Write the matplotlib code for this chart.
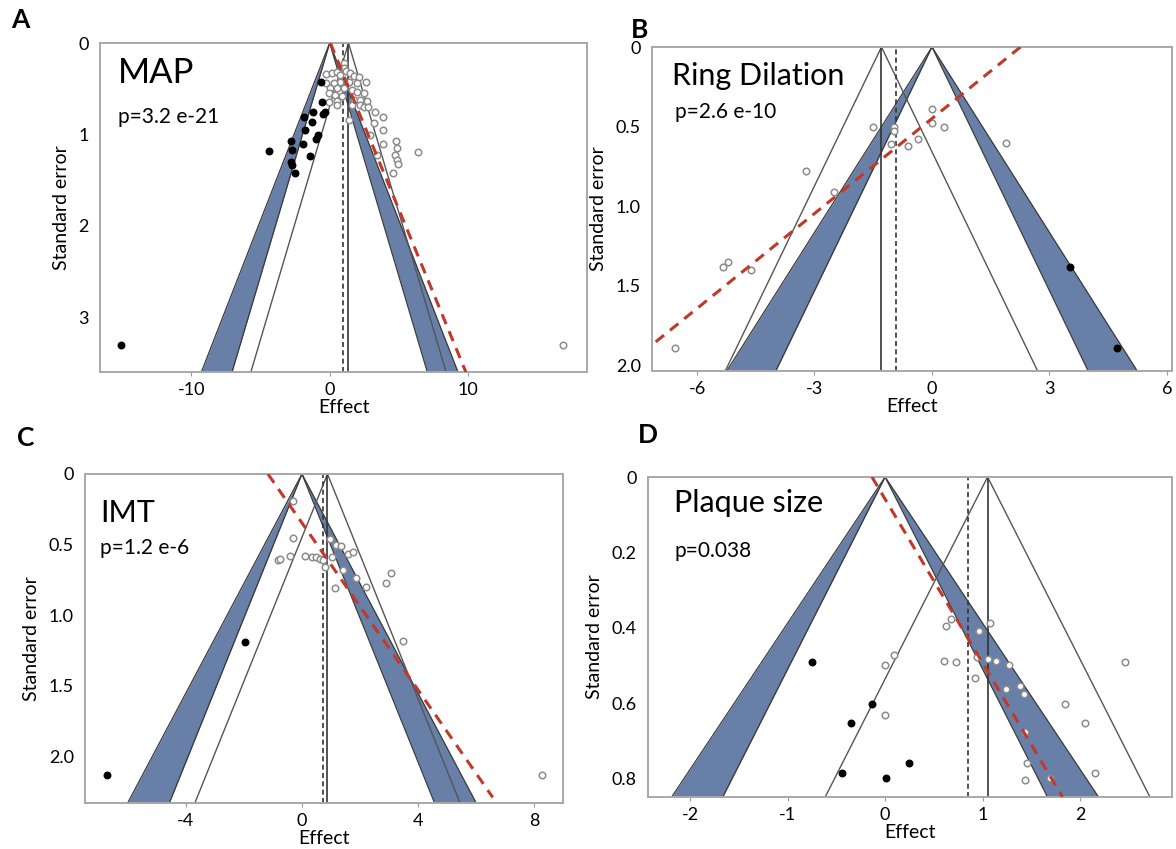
import matplotlib
matplotlib.use('Agg')
import matplotlib.pyplot as plt
import numpy as np

plt.rcParams['font.family'] = ['Lato', 'DejaVu Sans']
plt.rcParams['axes.unicode_minus'] = False

# ---- data ----
# A: MAP
a_open_x = [-0.24, 0.17, 0.53, 1.06, 1.06, 1.2, 0.77, 1.49, 1.73, 2.09, 2.64, 1.97, 1.37, 0.72, 0.29,
            -0.24, 0.05, 0.53, 1.06, 1.61, 2.01, 2.45, -0.07, 0.41, 0.89, 0.53, -0.07, 1.73, 2.21, 2.69,
            2.16, 2.5, 2.8, 1.61, 0.53, 3.29, 3.88, 1.37, 3.17, 3.84, 2.93, 3.88, 4.78, 4.85, 4.73,
            6.4, 4.85, 4.96, 4.56, 3.41, 16.9]
a_open_se = [0.34, 0.33, 0.32, 0.22, 0.27, 0.31, 0.35, 0.33, 0.36, 0.37, 0.43, 0.44, 0.43, 0.43, 0.44,
             0.44, 0.49, 0.49, 0.49, 0.51, 0.54, 0.55, 0.55, 0.57, 0.58, 0.64, 0.65, 0.62, 0.62, 0.64,
             0.68, 0.70, 0.70, 0.68, 0.68, 0.76, 0.81, 0.84, 0.87, 0.95, 1.01, 1.11, 1.07, 1.15, 1.23,
             1.19, 1.28, 1.32, 1.42, 1.23, 3.30]
a_fill_x = [-15.1, -4.39, -0.62, -0.55, -0.36, -1.19, -1.87, -1.27, -1.75, -0.83, -0.96, -2.83,
            -1.91, -2.7, -1.44, -2.83, -2.54, -0.5, -2.75]
a_fill_se = [3.30, 1.18, 0.43, 0.65, 0.75, 0.76, 0.81, 0.86, 0.95, 1.01, 1.05, 1.07,
             1.11, 1.17, 1.24, 1.30, 1.42, 0.78, 1.33]
a_pooled, a_adjusted = 1.36, 0.95
a_egger = [0.05, 2.72, 3.6]   # intercept, slope (effect = b0 + b1*SE), last SE drawn

# B: Ring Dilation
b_open_x = [-6.57, -5.34, -5.22, -4.62, -3.22, -2.50, -1.50, -0.98, -1.05, -0.62, -0.36, 0.0, 0.0, 0.32, 1.90, -0.96]
b_open_se = [1.89, 1.38, 1.35, 1.40, 0.78, 0.91, 0.50, 0.50, 0.61, 0.62, 0.58, 0.39, 0.48, 0.50, 0.60, 0.53]
b_fill_x = [3.52, 4.73]
b_fill_se = [1.38, 1.89]
b_pooled, b_adjusted = -1.29, -0.91
b_egger = [2.26, -5.03, 2.035]

# C: IMT
c_open_x = [-0.32, -0.30, -0.84, -0.74, -0.42, 0.09, 0.36, 0.49, 0.61, 0.74, 0.79, 1.04, 0.95, 1.17,
            1.34, 1.60, 1.75, 1.43, 1.86, 1.13, 2.21, 2.90, 3.05, 3.48, 8.25]
c_open_se = [0.19, 0.45, 0.61, 0.60, 0.58, 0.58, 0.59, 0.59, 0.60, 0.61, 0.66, 0.59, 0.46, 0.50,
             0.51, 0.57, 0.55, 0.68, 0.74, 0.81, 0.80, 0.77, 0.70, 1.18, 2.13]
c_fill_x = [-6.71, -1.97]
c_fill_se = [2.13, 1.19]
c_pooled, c_adjusted = 0.88, 0.74
c_egger = [-1.17, 3.38, 2.29]

# D: Plaque size
d_open_x = [0.68, 0.62, 1.07, 0.96, 0.09, 0.0, 0.60, 0.73, 0.94, 1.05, 1.14, 1.27, 2.46, 0.92,
            1.24, 1.38, 1.42, 1.84, 0.0, 2.05, 1.43, 1.45, 2.15, 1.43, 1.69]
d_open_se = [0.376, 0.396, 0.387, 0.409, 0.471, 0.50, 0.487, 0.491, 0.477, 0.484, 0.489, 0.50, 0.49, 0.533,
             0.563, 0.554, 0.576, 0.603, 0.631, 0.653, 0.677, 0.758, 0.785, 0.805, 0.798]
d_fill_x = [-0.75, -0.135, -0.35, 0.24, -0.44, 0.01]
d_fill_se = [0.49, 0.603, 0.653, 0.758, 0.785, 0.798]
d_pooled, d_adjusted = 1.05, 0.85
d_egger = [-0.135, 2.30, 0.849]

panels = [
    dict(letter='A', name='MAP', p='p=3.2 e-21', ox=a_open_x, ose=a_open_se, fx=a_fill_x, fse=a_fill_se,
         pooled=a_pooled, adj=a_adjusted, egger=a_egger, xlim=(-16.6, 18.6), ymax=3.6,
         xticks=[-10, 0, 10], yticks=[0, 1, 2, 3], ylabels=['0', '1', '2', '3'],
         rect=[100, 43, 587, 372], name_pos=(0.037, 0.09), p_pos=(0.037, 0.225), name_fs=25),
    dict(letter='B', name='Ring Dilation', p='p=2.6 e-10', ox=b_open_x, ose=b_open_se, fx=b_fill_x, fse=b_fill_se,
         pooled=b_pooled, adj=b_adjusted, egger=b_egger, xlim=(-7.15, 6.13), ymax=2.035,
         xticks=[-6, -3, 0, 3, 6], yticks=[0, 0.5, 1.0, 1.5, 2.0], ylabels=['0', '0.5', '1.0', '1.5', '2.0'],
         rect=[652, 47, 1172, 371], name_pos=(0.038, 0.09), p_pos=(0.045, 0.2), name_fs=22),
    dict(letter='C', name='IMT', p='p=1.2 e-6', ox=c_open_x, ose=c_open_se, fx=c_fill_x, fse=c_fill_se,
         pooled=c_pooled, adj=c_adjusted, egger=c_egger, xlim=(-7.47, 8.99), ymax=2.33,
         xticks=[-4, 0, 4, 8], yticks=[0, 0.5, 1.0, 1.5, 2.0], ylabels=['0', '0.5', '1.0', '1.5', '2.0'],
         rect=[85, 474, 563, 803], name_pos=(0.031, 0.12), p_pos=(0.031, 0.225), name_fs=22),
    dict(letter='D', name='Plaque size', p='p=0.038', ox=d_open_x, ose=d_open_se, fx=d_fill_x, fse=d_fill_se,
         pooled=d_pooled, adj=d_adjusted, egger=d_egger, xlim=(-2.43, 2.94), ymax=0.849,
         xticks=[-2, -1, 0, 1, 2], yticks=[0, 0.2, 0.4, 0.6, 0.8], ylabels=['0', '0.2', '0.4', '0.6', '0.8'],
         rect=[648, 477, 1172, 797], name_pos=(0.05, 0.08), p_pos=(0.05, 0.23), name_fs=22),
]
letter_pos = {'A': (20, 20), 'B': (640, 30), 'C': (26, 438), 'D': (648, 435)}

W, H = 1176, 849
fig = plt.figure(figsize=(W / 100, H / 100), dpi=100)
blue = '#6880a8'

for pn in panels:
    l, t, r, b = pn['rect']
    ax = fig.add_axes([l / W, 1 - b / H, (r - l) / W, (b - t) / H])
    se = np.linspace(0, pn['ymax'], 50)
    # significance contours around zero
    ax.fill_betweenx(se, -2.576 * se, -1.96 * se, color=blue, lw=0, zorder=1)
    ax.fill_betweenx(se, 1.96 * se, 2.576 * se, color=blue, lw=0, zorder=1)
    for k in [-2.576, -1.96, 1.96, 2.576]:
        ax.plot(k * se, se, color='#3a3a3a', lw=0.9, zorder=2)
    # funnel around pooled estimate
    ax.plot(pn['pooled'] - 1.96 * se, se, color='#555555', lw=1.0, zorder=2)
    ax.plot(pn['pooled'] + 1.96 * se, se, color='#555555', lw=1.0, zorder=2)
    ax.axvline(pn['pooled'], color='#333333', lw=1.2, zorder=2)
    ax.axvline(pn['adj'], color='#333333', lw=1.2, ls=(0, (3, 2)), zorder=2)
    # egger line
    b0, b1, se_end = pn['egger']
    se_e = np.linspace(0, se_end, 20)
    ax.plot(b0 + b1 * se_e, se_e, color='#c0392b', lw=2.2, ls=(0, (3.5, 2.5)), zorder=4)
    ax.scatter(pn['ox'], pn['ose'], s=22, facecolor='white', edgecolor='#8c8c8c', lw=1.1, zorder=3)
    ax.scatter(pn['fx'], pn['fse'], s=22, color='black', zorder=3)

    ax.set_xlim(pn['xlim'])
    ax.set_ylim(pn['ymax'], 0)
    ax.set_xticks(pn['xticks'])
    ax.set_yticks(pn['yticks'])
    ax.set_yticklabels(pn['ylabels'])
    ax.tick_params(axis='x', length=3, color='#999999', labelsize=13, pad=4)
    ax.tick_params(axis='y', length=0, labelsize=13, pad=8)
    for s in ax.spines.values():
        s.set_color('#a8a8a8')
        s.set_linewidth(1.4)
    ax.set_xlabel('Effect', fontsize=14, labelpad=1)
    ax.set_ylabel('Standard error', fontsize=14, labelpad=6)
    ax.text(pn['name_pos'][0], 1 - pn['name_pos'][1], pn['name'], transform=ax.transAxes,
            fontsize=pn['name_fs'], va='center', ha='left')
    ax.text(pn['p_pos'][0], 1 - pn['p_pos'][1], pn['p'], transform=ax.transAxes,
            fontsize=15, va='center', ha='left')
    lx, ly = letter_pos[pn['letter']]
    fig.text(lx / W, 1 - ly / H, pn['letter'], fontsize=19, fontweight='bold', va='center', ha='center')

fig.savefig('out.png', dpi=100, facecolor='white')
